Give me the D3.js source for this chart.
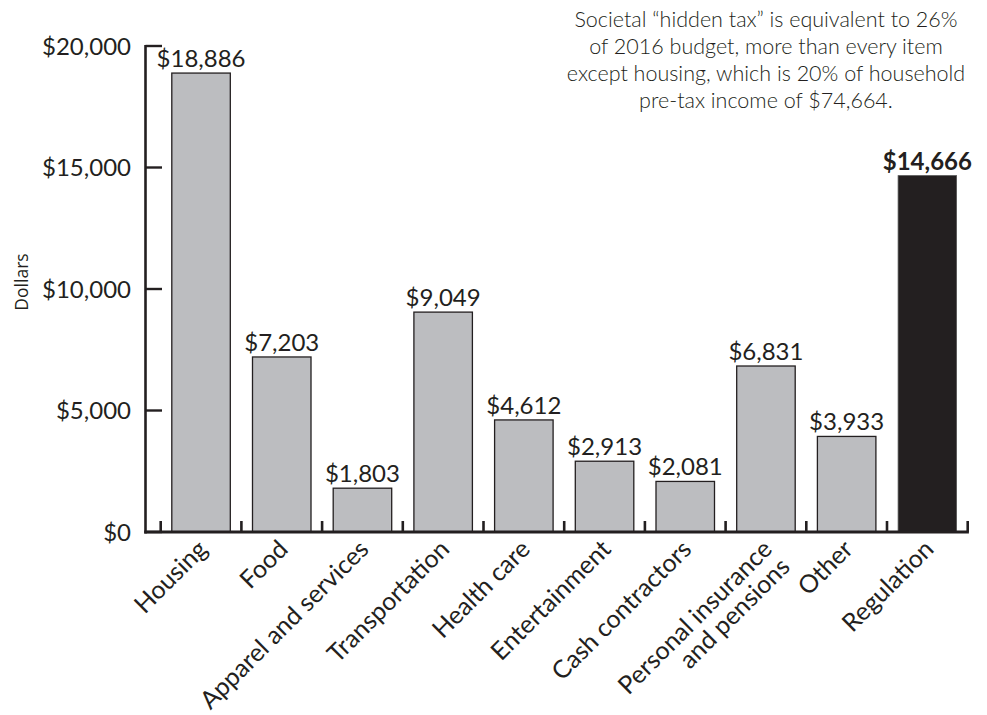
<!DOCTYPE html>
<html>
<head>
<meta charset="utf-8">
<script src="https://cdn.jsdelivr.net/npm/d3@7/dist/d3.min.js"></script>
<style>
  html, body { margin: 0; padding: 0; background: #fff; }
  svg { display: block; }
  text { fill: #231f20; }
</style>
</head>
<body>
<script>
// Household spending categories (2016) compared with the cost of regulation
const categories = ["Housing", "Food", "Apparel and services", "Transportation", "Health care",
  "Entertainment", "Cash contractors", "Personal insurance\nand pensions", "Other", "Regulation"];
const values = [18886, 7203, 1803, 9049, 4612, 2913, 2081, 6831, 3933, 14666];
const highlight = ["Regulation"];
const yTicks = [0, 5000, 10000, 15000, 20000];
const yTitle = "Dollars";
const noteLines = [
  "Societal “hidden tax” is equivalent to 26%",
  "of 2016 budget, more than every item",
  "except housing, which is 20% of household",
  "pre-tax income of $74,664."
];

const W = 987, H = 715;
const font = "Lato, 'Open Sans', sans-serif";
const ink = "#231f20";
const grey = "#bcbdc0";

const svg = d3.select("body").append("svg").attr("width", W).attr("height", H);

const axisX = 145.5, baseY = 532, topY = 46;
const bandL = 160.7, bandR = 967.7;

const x = d3.scaleBand().domain(categories).range([bandL, bandR]).paddingInner(0.275).paddingOuter(0.1375);
const y = d3.scaleLinear().domain([0, 20000]).range([baseY, topY]);
const fmt = d3.format("$,");

// y axis line and right-pointing ticks
svg.append("line").attr("x1", axisX).attr("x2", axisX).attr("y1", topY - 1).attr("y2", baseY + 1.5)
  .attr("stroke", ink).attr("stroke-width", 2.6);
svg.selectAll(".ytick").data(yTicks).join("line")
  .attr("x1", axisX).attr("x2", 162).attr("y1", d => y(d)).attr("y2", d => y(d))
  .attr("stroke", ink).attr("stroke-width", 2.4);
svg.selectAll(".ylab").data(yTicks).join("text")
  .attr("x", 131).attr("y", d => y(d)).attr("dy", "0.36em")
  .attr("text-anchor", "end").style("font", `24px ${font}`)
  .text(d => fmt(d));

// y title
svg.append("text").attr("transform", `translate(28,${y(10000) - 7}) rotate(-90)`)
  .attr("text-anchor", "middle").style("font", "17.5px 'Open Sans', sans-serif").text(yTitle);

// bars
const step = x.step();
svg.selectAll(".bar").data(categories).join("rect")
  .attr("x", d => x(d)).attr("width", x.bandwidth())
  .attr("y", (d, i) => y(values[i])).attr("height", (d, i) => baseY - y(values[i]))
  .attr("fill", d => highlight.includes(d) ? ink : grey)
  .attr("stroke", d => highlight.includes(d) ? "#555" : ink)
  .attr("stroke-width", d => highlight.includes(d) ? 0.8 : 1.3);

// x axis line and upward ticks at band boundaries
svg.append("line").attr("x1", axisX - 1.3).attr("x2", bandR + 1.2).attr("y1", baseY).attr("y2", baseY)
  .attr("stroke", ink).attr("stroke-width", 2.8);
const bounds = d3.range(categories.length + 1).map(i => bandL + i * step);
svg.selectAll(".xtick").data(bounds).join("line")
  .attr("x1", d => d).attr("x2", d => d).attr("y1", baseY).attr("y2", baseY - 11)
  .attr("stroke", ink).attr("stroke-width", 2.6);

// value labels
svg.selectAll(".val").data(categories).join("text")
  .attr("x", d => x(d) + x.bandwidth() / 2).attr("y", (d, i) => y(values[i]) - 6)
  .attr("text-anchor", "middle")
  .style("font", d => `${highlight.includes(d) ? 700 : 400} 24px ${font}`)
  .text((d, i) => fmt(values[i]));

// category labels, rotated
const cat = svg.selectAll(".cat").data(categories).join("text")
  .attr("transform", d => `translate(${x(d) + x.bandwidth() / 2 - 2},${baseY + 9}) rotate(-45)`)
  .attr("text-anchor", "end").style("font", `25px ${font}`);
cat.each(function(d) {
  const lines = d.split("\n");
  d3.select(this).selectAll("tspan").data(lines).join("tspan")
    .attr("x", 0).attr("dy", (l, i) => i === 0 ? "0.55em" : "1.0em").text(l => l);
});

// annotation
svg.append("text").attr("text-anchor", "middle")
  .style("font", `300 21.5px ${font}`)
  .selectAll("tspan").data(noteLines).join("tspan")
  .attr("x", 766).attr("y", (d, i) => 27 + i * 27).text(d => d);
</script>
</body>
</html>
